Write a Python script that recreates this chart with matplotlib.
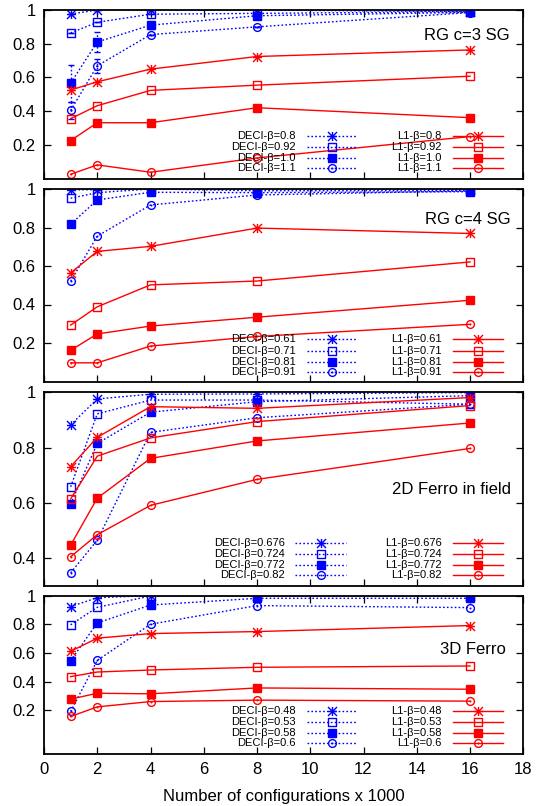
import matplotlib
matplotlib.use('Agg')
import matplotlib.pyplot as plt
from matplotlib.path import Path
from matplotlib.lines import Line2D

plt.rcParams['font.family'] = ['Liberation Sans', 'DejaVu Sans']

W, H = 546, 806

configs = [1, 2, 4, 8, 16]

# RG c=3 spin glass
c3_betas = ['0.8', '0.92', '1.0', '1.1']
c3_deci = [[0.976, 1.0, 1.0, 1.0, 0.99],
           [0.864, 0.927, 0.975, 0.98, 0.99],
           [0.566, 0.81, 0.91, 0.966, 0.986],
           [0.404, 0.669, 0.854, 0.90, 0.985]]
c3_deci_err = [[0.0, 0.0, 0.0, 0.0, 0.0],
               [0.0, 0.0, 0.0, 0.0, 0.0],
               [0.11, 0.06, 0.02, 0.0, 0.0],
               [0.05, 0.04, 0.0, 0.0, 0.0]]
c3_l1 = [[0.525, 0.574, 0.649, 0.724, 0.763],
         [0.355, 0.432, 0.523, 0.554, 0.607],
         [0.225, 0.331, 0.331, 0.420, 0.361],
         [0.025, 0.081, 0.037, 0.122, 0.249]]

# RG c=4 spin glass
c4_betas = ['0.61', '0.71', '0.81', '0.91']
c4_deci = [[0.995, 0.997, 1.0, 1.0, 0.998],
           [0.952, 0.981, 1.0, 0.991, 0.991],
           [0.817, 0.943, 0.983, 0.981, 0.986],
           [0.521, 0.755, 0.917, 0.969, 0.99]]
c4_l1 = [[0.564, 0.676, 0.702, 0.797, 0.769],
         [0.293, 0.388, 0.502, 0.522, 0.621],
         [0.162, 0.247, 0.288, 0.334, 0.422],
         [0.097, 0.097, 0.184, 0.234, 0.297]]

# 2D ferromagnet in field
f2_betas = ['0.676', '0.724', '0.772', '0.82']
f2_deci = [[0.882, 0.976, 0.993, 0.994, 0.999],
           [0.658, 0.922, 0.972, 0.972, 0.957],
           [0.596, 0.815, 0.928, 0.966, 0.988],
           [0.347, 0.465, 0.855, 0.908, 0.957]]
f2_l1 = [[0.731, 0.837, 0.948, 0.942, 0.981],
         [0.614, 0.769, 0.835, 0.894, 0.952],
         [0.447, 0.617, 0.761, 0.824, 0.889],
         [0.405, 0.485, 0.591, 0.685, 0.797]]

# 3D ferromagnet
f3_betas = ['0.48', '0.53', '0.58', '0.6']
f3_deci = [[0.924, 0.986, 1.0, 1.0, 1.0],
           [0.797, 0.919, 0.998, 1.0, 1.0],
           [0.547, 0.81, 0.935, 0.982, 0.982],
           [0.193, 0.549, 0.801, 0.931, 0.917]]
f3_l1 = [[0.612, 0.704, 0.736, 0.75, 0.792],
         [0.436, 0.468, 0.482, 0.501, 0.51],
         [0.279, 0.320, 0.316, 0.357, 0.348],
         [0.158, 0.225, 0.262, 0.272, 0.265]]

titles = ['RG c=3 SG', 'RG c=4 SG', '2D Ferro in field', '3D Ferro']
betas = [c3_betas, c4_betas, f2_betas, f3_betas]
deci = [c3_deci, c4_deci, f2_deci, f3_deci]
l1 = [c3_l1, c4_l1, f2_l1, f3_l1]
deci_err = [c3_deci_err, None, None, None]
ylims = [(0, 1), (0, 1), (0.3, 1), (-0.1, 1)]
yticks = [[0.2, 0.4, 0.6, 0.8, 1], [0.2, 0.4, 0.6, 0.8, 1],
          [0.4, 0.6, 0.8, 1], [0.2, 0.4, 0.6, 0.8, 1]]

# panel boxes in pixels (top, bottom) and text placement
boxes = [(10, 178.5), (189, 381.5), (392.3, 585.8), (595.7, 753.5)]
title_pos = [(510, 35), (511, 220), (511, 489.3), (506, 649)]
key_rows = [[136, 146.7, 157.7, 168.3],
            [339.3, 350.7, 361.7, 372.3],
            [542.7, 554, 564.7, 575.3],
            [711.3, 722, 732.7, 743.3]]
deci_key_shift = [0, 0, -11.3, 0]
X0, X1 = 44, 523.3

BLUE = '#0000ff'
RED = '#ff0000'
DOTS = (0, (1.2, 1.6))


def with_dot(path):
    d = 0.035
    dot = Path([(-d, -d), (d, -d), (d, d), (-d, d), (-d, -d)],
               [Path.MOVETO, Path.LINETO, Path.LINETO, Path.LINETO, Path.CLOSEPOLY])
    return Path.make_compound_path(path, dot)


sq = Path([(-0.5, -0.5), (0.5, -0.5), (0.5, 0.5), (-0.5, 0.5), (-0.5, -0.5)],
          [Path.MOVETO, Path.LINETO, Path.LINETO, Path.LINETO, Path.CLOSEPOLY])
circ = Path.unit_circle().transformed(matplotlib.transforms.Affine2D().scale(0.5))
star = Path([(-0.5, 0), (0.5, 0), (0, -0.5), (0, 0.5),
             (-0.5, -0.5), (0.5, 0.5), (-0.5, 0.5), (0.5, -0.5)],
            [Path.MOVETO, Path.LINETO] * 4)

# marker, marker size, filled?
styles = [(star, 6.5, False), (with_dot(sq), 5.2, False),
          ('s', 5.6, True), (with_dot(circ), 5.6, False)]


def mk(color, i):
    m, ms, filled = styles[i]
    return dict(marker=m, markersize=ms, markeredgecolor=color,
                markerfacecolor=color if filled else 'none', markeredgewidth=1.0)


def fx(px):
    return px / W


def fy(py):
    return 1 - py / H


fig = plt.figure(figsize=(W / 100, H / 100), dpi=100)

for p in range(4):
    top, bot = boxes[p]
    ax = fig.add_axes([fx(X0), fy(bot), (X1 - X0) / W, (bot - top) / H])

    for i in range(4):
        ax.plot(configs, deci[p][i], color=BLUE, lw=1.0, linestyle=DOTS, **mk(BLUE, i))
        if deci_err[p] is not None:
            eb = ax.errorbar(configs, deci[p][i], yerr=deci_err[p][i], fmt='none',
                             ecolor=BLUE, elinewidth=1.0, capsize=2, capthick=1.0)
            eb[2][0].set_linestyle(DOTS)
    for i in range(4):
        ax.plot(configs, l1[p][i], color=RED, lw=1.0, linestyle='-', **mk(RED, i))

    ax.set_xlim(0, 18)
    ax.set_ylim(*ylims[p])
    ax.set_xticks(range(0, 19, 2))
    ax.set_yticks(yticks[p])
    ax.set_yticklabels(['1' if v == 1 else f'{v:g}' for v in yticks[p]])
    ax.tick_params(direction='in', top=True, right=True, length=5, width=0.9,
                   labelsize=12, pad=6)
    if p < 3:
        ax.tick_params(labelbottom=False)
    for s in ax.spines.values():
        s.set_linewidth(1.3)

    tx, ty = title_pos[p]
    fig.text(fx(tx), fy(ty), titles[p], ha='right', va='center', fontsize=12)

    # key: two columns, labels right-justified left of the sample
    cols = [('DECI', BLUE, DOTS, 296 + deci_key_shift[p], 306.6 + deci_key_shift[p],
             357 + deci_key_shift[p]),
            ('L1', RED, '-', 441.8, 453, 503)]
    for name, color, ls, tr, l0, l1x in cols:
        for i, ry in enumerate(key_rows[p]):
            fig.text(fx(tr), fy(ry), f'{name}-\u03b2={betas[p][i]}', ha='right',
                     va='center', fontsize=8)
            fig.add_artist(Line2D([fx(l0), fx(l1x)], [fy(ry), fy(ry)], color=color,
                                  lw=1.0, linestyle=ls, transform=fig.transFigure))
            fig.add_artist(Line2D([fx((l0 + l1x) / 2)], [fy(ry)], linestyle='none',
                                  transform=fig.transFigure, **mk(color, i)))

    if p == 3:
        ax.set_xlabel('Number of configurations x 1000', fontsize=12, labelpad=9)

fig.savefig('out.png', dpi=100)
